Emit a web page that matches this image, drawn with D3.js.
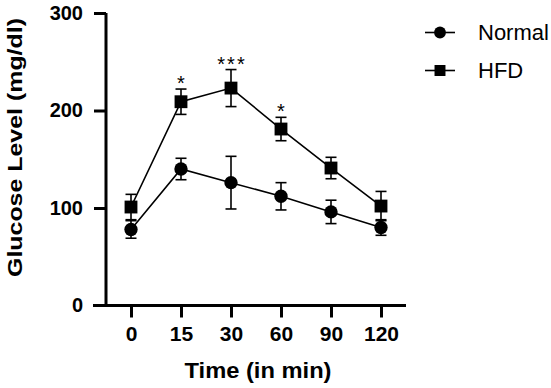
<!DOCTYPE html>
<html>
<head>
<meta charset="utf-8">
<script src="https://cdn.jsdelivr.net/npm/d3@7"></script>
<style>
  body { margin: 0; background: #fff; }
  text { font-family: "Liberation Sans", Arial, sans-serif; }
</style>
</head>
<body>
<div id="chart"></div>
<script>
var times = ["0", "15", "30", "60", "90", "120"];
var normalMean = [78, 140, 126, 112, 96, 80];
var normalSem = [9, 11, 27, 14, 12, 8];
var hfdMean = [101, 209, 223, 181, 141, 102];
var hfdSem = [13, 13, 19, 12, 11, 15];
var stars = ["", "*", "***", "*", "", ""];
var yTicks = [0, 100, 200, 300];

var margin = {top: 13, right: 145, bottom: 82, left: 106},
    width = 406 - margin.left,
    height = 305.5 - margin.top;

var svg = d3.select("#chart")
  .append("svg")
  .attr("width", 551)
  .attr("height", 388)
  .append("g")
  .attr("transform", "translate(" + margin.left + "," + margin.top + ")");

var x = d3.scalePoint().domain(times).range([0, width]).padding(0.5);
var y = d3.scaleLinear().domain([0, 300]).range([height, 0]);

var series = [
  {name: "Normal", mean: normalMean, sem: normalSem, shape: d3.symbolCircle},
  {name: "HFD", mean: hfdMean, sem: hfdSem, shape: d3.symbolSquare}
];

// axes
var yAxis = svg.append("g")
  .call(d3.axisLeft(y).tickValues(yTicks).tickSize(12).tickPadding(11));
var xAxis = svg.append("g")
  .attr("transform", "translate(0," + height + ")")
  .call(d3.axisBottom(x).tickSize(12).tickPadding(9));

[xAxis, yAxis].forEach(function(a) {
  a.select(".domain").attr("stroke", "#000").attr("stroke-width", 3);
  a.selectAll(".tick line").attr("stroke", "#000").attr("stroke-width", 3);
  a.selectAll(".tick text")
    .attr("fill", "#000")
    .style("font-weight", "bold");
});
xAxis.selectAll(".tick text").style("font-size", "21px");
yAxis.selectAll(".tick text").style("font-size", "20px");
// domain without outer ticks
yAxis.select(".domain").attr("d", "M0," + (height + 1.5) + "V0");
xAxis.select(".domain").attr("d", "M-13,0H" + width);
yAxis.selectAll(".tick").filter(function(d) { return d === 0; }).select("line").remove();

// lines, error bars, markers
series.forEach(function(s) {
  var pts = times.map(function(t, i) { return {t: t, m: s.mean[i], e: s.sem[i]}; });
  var g = svg.append("g");

  g.append("path")
    .datum(pts)
    .attr("fill", "none")
    .attr("stroke", "#000")
    .attr("stroke-width", 1.6)
    .attr("d", d3.line().x(function(d) { return x(d.t); }).y(function(d) { return y(d.m); }));

  var eb = g.selectAll(".eb").data(pts).enter().append("g")
    .attr("stroke", "#000").attr("stroke-width", 1.6);
  eb.append("line")
    .attr("x1", function(d) { return x(d.t); })
    .attr("x2", function(d) { return x(d.t); })
    .attr("y1", function(d) { return y(d.m + d.e); })
    .attr("y2", function(d) { return y(d.m - d.e); });
  eb.append("line")
    .attr("x1", function(d) { return x(d.t) - 5.5; })
    .attr("x2", function(d) { return x(d.t) + 5.5; })
    .attr("y1", function(d) { return y(d.m + d.e); })
    .attr("y2", function(d) { return y(d.m + d.e); });
  eb.append("line")
    .attr("x1", function(d) { return x(d.t) - 5.5; })
    .attr("x2", function(d) { return x(d.t) + 5.5; })
    .attr("y1", function(d) { return y(d.m - d.e); })
    .attr("y2", function(d) { return y(d.m - d.e); });

  g.selectAll(".pt").data(pts).enter().append("path")
    .attr("transform", function(d) { return "translate(" + x(d.t) + "," + y(d.m) + ")"; })
    .attr("d", d3.symbol().type(s.shape).size(s.shape === d3.symbolCircle ? 140 : 165))
    .attr("fill", "#000");
});

// significance stars
svg.selectAll(".star").data(times).enter().append("text")
  .attr("x", function(d) { return x(d) + 1; })
  .attr("y", function(d, i) { return y(hfdMean[i] + hfdSem[i]) + 1; })
  .attr("text-anchor", "middle")
  .style("font-size", "20px")
  .style("letter-spacing", "2px")
  .text(function(d, i) { return stars[i]; });

// axis titles
svg.append("text")
  .attr("x", 152)
  .attr("y", 365)
  .attr("text-anchor", "middle")
  .attr("textLength", 147)
  .attr("lengthAdjust", "spacingAndGlyphs")
  .style("font-size", "22px")
  .style("font-weight", "bold")
  .text("Time (in min)");

svg.append("text")
  .attr("transform", "translate(-84,134.5) rotate(-90)")
  .attr("text-anchor", "middle")
  .attr("textLength", 259)
  .attr("lengthAdjust", "spacingAndGlyphs")
  .style("font-size", "21px")
  .style("font-weight", "bold")
  .text("Glucose Level (mg/dl)");

// legend
var legend = svg.selectAll(".legend").data(series).enter().append("g")
  .attr("transform", function(d, i) { return "translate(" + (width + 19) + "," + (19.5 + i * 38) + ")"; });
legend.append("line")
  .attr("x1", 0).attr("x2", 30)
  .attr("stroke", "#000").attr("stroke-width", 1.6);
legend.append("path")
  .attr("transform", "translate(15,0)")
  .attr("d", function(d) { return d3.symbol().type(d.shape).size(d.shape === d3.symbolCircle ? 110 : 120)(); })
  .attr("fill", "#000");
legend.append("text")
  .attr("x", 53)
  .attr("dy", "0.35em")
  .style("font-size", "22px")
  .text(function(d) { return d.name; });
</script>
</body>
</html>
